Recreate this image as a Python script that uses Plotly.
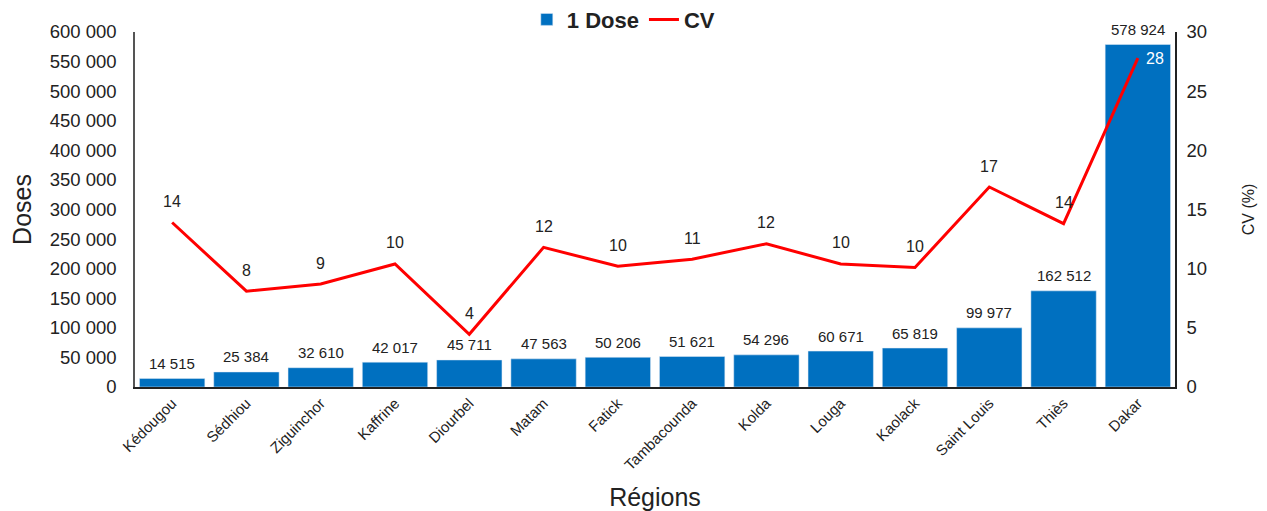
import plotly.graph_objects as go

regions = ["Kédougou", "Sédhiou", "Ziguinchor", "Kaffrine", "Diourbel", "Matam", "Fatick",
           "Tambacounda", "Kolda", "Louga", "Kaolack", "Saint Louis", "Thiès", "Dakar"]
doses = [14515, 25384, 32610, 42017, 45711, 47563, 50206, 51621, 54296, 60671, 65819, 99977, 162512, 578924]
cv = [13.9, 8.1, 8.7, 10.4, 4.45, 11.8, 10.2, 10.8, 12.1, 10.4, 10.1, 16.9, 13.8, 27.8]

FONT = "Liberation Sans, Arial, sans-serif"
TXT = "#222222"
CLEAR = "rgba(0,0,0,0)"

fig = go.Figure()
fig.add_trace(go.Bar(
    x=regions, y=doses, name="1 Dose", marker_color="#0070C0",
))
fig.add_trace(go.Scatter(
    x=regions, y=cv, name="CV", yaxis="y2", mode="lines",
    line=dict(color="#FF0000", width=3),
))

annotations = []
for r, d in zip(regions, doses):
    annotations.append(dict(x=r, y=d, xref="x", yref="y", text=f"{d:,}".replace(",", " "),
                            showarrow=False, yshift=15, font=dict(size=15, color=TXT)))
for i, (r, c) in enumerate(zip(regions, cv)):
    if i == len(cv) - 1:
        annotations.append(dict(x=r, y=c, xref="x", yref="y2", text=f"{c:.0f}",
                                showarrow=False, xshift=17, yshift=0,
                                font=dict(size=16, color="white")))
    else:
        annotations.append(dict(x=r, y=c, xref="x", yref="y2", text=f"{c:.0f}",
                                showarrow=False, yshift=21, font=dict(size=16, color=TXT)))

fig.update_layout(
    width=1267, height=511,
    margin=dict(l=127, r=100, t=24, b=132, autoexpand=False),
    paper_bgcolor="white", plot_bgcolor="white",
    separators=", ",
    font=dict(family=FONT, color=TXT),
    bargap=0.12,
    showlegend=True,
    annotations=annotations,
    legend=dict(orientation="h", xref="paper", x=0.47, xanchor="center",
                yref="paper", y=1.035, yanchor="middle",
                font=dict(size=22, family=FONT, color=TXT, weight="bold"),
                itemwidth=30, tracegroupgap=0, bgcolor=CLEAR),
    xaxis=dict(tickangle=-45, tickfont=dict(size=15), showline=True, linecolor=TXT,
               linewidth=1.5, ticks="", title=dict(text="Régions", font=dict(size=25), standoff=16)),
    yaxis=dict(range=[0, 600000], dtick=50000, tickformat=",.0f", showgrid=False,
               showline=True, linecolor="#555555", linewidth=1.5,
               ticks="outside", ticklen=13, tickcolor=CLEAR,
               tickfont=dict(size=18.5), zeroline=False,
               title=dict(text="Doses", font=dict(size=25), standoff=12)),
    yaxis2=dict(range=[0, 30], dtick=5, overlaying="y", side="right", showgrid=False,
                showline=True, linecolor=TXT, linewidth=1.5,
                ticks="outside", ticklen=6, tickcolor=CLEAR,
                tickfont=dict(size=18.5), zeroline=False,
                title=dict(text="CV (%)", font=dict(size=16), standoff=37)),
)

fig.write_html("out.html")
